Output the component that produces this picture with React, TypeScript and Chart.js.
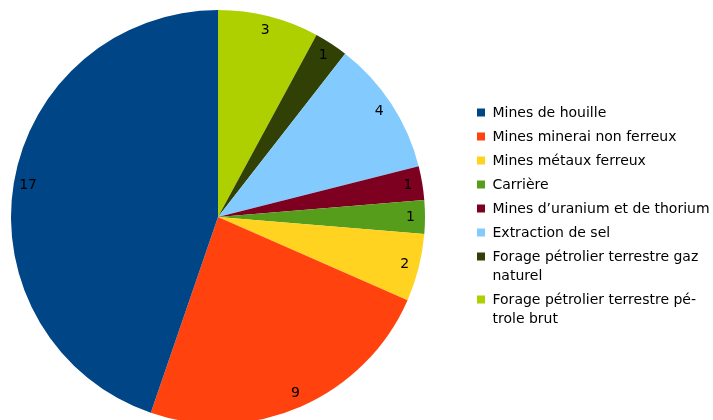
import React, { useEffect, useRef } from "react";
import { Chart, registerables } from "chart.js";

Chart.register(...registerables);

const categories: string[][] = [
  ["Mines de houille"],
  ["Mines minerai non ferreux"],
  ["Mines métaux ferreux"],
  ["Carrière"],
  ["Mines d’uranium et de thorium"],
  ["Extraction de sel"],
  ["Forage pétrolier terrestre gaz", "naturel"],
  ["Forage pétrolier terrestre pé-", "trole brut"],
];
const values: number[] = [17, 9, 2, 1, 1, 4, 1, 3];
const colors: string[] = [
  "#004586",
  "#ff420e",
  "#ffd320",
  "#579d1c",
  "#7e0021",
  "#83caff",
  "#314004",
  "#aecf00",
];

const FONT = '14px "DejaVu Sans"';

const sliceLabels = {
  id: "sliceLabels",
  afterDatasetsDraw(chart: any) {
    const ctx = chart.ctx;
    const meta = chart.getDatasetMeta(0);
    const data = chart.data.datasets[0].data as number[];
    ctx.save();
    ctx.font = FONT;
    ctx.fillStyle = "#000";
    ctx.textAlign = "center";
    ctx.textBaseline = "middle";
    meta.data.forEach((arc: any, i: number) => {
      const p = arc.getProps(["x", "y", "startAngle", "endAngle", "outerRadius"], true);
      const mid = (p.startAngle + p.endAngle) / 2;
      const r = p.outerRadius * 0.93;
      ctx.fillText(String(data[i]), p.x + Math.cos(mid) * r, p.y + Math.sin(mid) * r);
    });
    ctx.restore();
  },
};

const customLegend = {
  id: "customLegend",
  afterDraw(chart: any) {
    const ctx = chart.ctx;
    ctx.save();
    ctx.font = FONT;
    ctx.textAlign = "left";
    ctx.textBaseline = "middle";
    let y = 112.5;
    categories.forEach((lines, i) => {
      ctx.fillStyle = colors[i];
      ctx.fillRect(477, y - 4, 8, 8);
      ctx.fillStyle = "#000";
      lines.forEach((line, j) => {
        ctx.fillText(line, 492.5, y + 1 + j * 19);
      });
      y += 24 + (lines.length - 1) * 19;
    });
    ctx.restore();
  },
};

export default function App() {
  const ref = useRef<HTMLCanvasElement>(null);
  useEffect(() => {
    document.body.style.margin = "0";
    document.body.style.overflow = "hidden";
    const revValues = [...values].reverse();
    const revColors = [...colors].reverse();
    const revLabels = [...categories].reverse().map((l) => l.join(" "));
    const chart = new Chart(ref.current!, {
      type: "pie",
      data: {
        labels: revLabels,
        datasets: [
          {
            data: revValues,
            backgroundColor: revColors,
            borderWidth: 0,
          },
        ],
      },
      options: {
        animation: false,
        responsive: false,
        events: [],
        layout: { padding: { left: 11, top: 10, right: 288, bottom: 16 } },
        plugins: {
          legend: { display: false },
          tooltip: { enabled: false },
        },
      },
      plugins: [sliceLabels, customLegend],
    });
    return () => chart.destroy();
  }, []);
  return (
    <div style={{ width: 713, height: 440, background: "#fff" }}>
      <canvas ref={ref} width={713} height={440} />
    </div>
  );
}
